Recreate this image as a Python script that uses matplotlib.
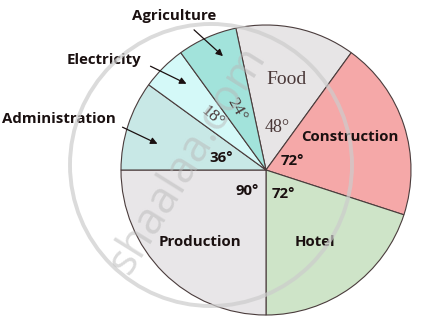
import matplotlib
matplotlib.use("Agg")
import matplotlib.pyplot as plt
from matplotlib.patches import Circle

# Data
categories = ["Food", "Construction", "Hotel", "Production", "Administration", "Electricity", "Agriculture"]
angles = [48, 72, 72, 90, 36, 18, 24]
colors = ["#e7e5e6", "#f5a8a8", "#cee4c8", "#e8e6e8", "#c8e8e6", "#d4f9f8", "#a2e3db"]

W, H = 424, 325
fig = plt.figure(figsize=(W / 100, H / 100), dpi=100)
ax = fig.add_axes([0, 0, 1, 1])

cx, cy, r = 266, H - 170, 145
ax.pie(angles, colors=colors, startangle=102, counterclock=False,
       center=(cx, cy), radius=r, frame=True,
       wedgeprops=dict(edgecolor="#4a3c3c", linewidth=0.8))
ax.set_xlim(0, W)
ax.set_ylim(0, H)
ax.set_aspect("equal")
ax.axis("off")

def P(x, y):
    return (x, H - y)

sans = dict(family="Open Sans", fontweight="bold", color="#1a1010")
serif = dict(family="Liberation Serif", color="#4a3838")
fs = 10.8

# Inside labels
ax.text(*P(287, 79), "Food", fontsize=14, ha="center", va="center", **serif)
ax.text(*P(277, 128), "48°", fontsize=13, ha="center", va="center", **serif)
ax.text(*P(237, 110), "24°", fontsize=12.5, ha="center", va="center", rotation=-60, **serif)
ax.text(*P(212, 117), "18°", fontsize=12.5, ha="center", va="center", rotation=-40, **serif)
ax.text(*P(350, 137), "Construction", fontsize=fs, ha="center", va="center", **sans)
ax.text(*P(292, 161), "72°", fontsize=fs, ha="center", va="center", **sans)
ax.text(*P(283, 194), "72°", fontsize=fs, ha="center", va="center", **sans)
ax.text(*P(247, 191), "90°", fontsize=fs, ha="center", va="center", **sans)
ax.text(*P(221, 158), "36°", fontsize=fs, ha="center", va="center", **sans)
ax.text(*P(315, 242), "Hotel", fontsize=fs, ha="center", va="center", **sans)
ax.text(*P(200, 242), "Production", fontsize=fs, ha="center", va="center", **sans)

# Outside labels with arrows
ax.text(*P(174, 16), "Agriculture", fontsize=fs, ha="center", va="center", **sans)
ax.text(*P(104, 60), "Electricity", fontsize=fs, ha="center", va="center", **sans)
ax.text(*P(59, 119), "Administration", fontsize=fs, ha="center", va="center", **sans)
arrow = dict(arrowstyle="-|>", color="#1a1010", lw=0.9, mutation_scale=10)
ax.annotate("", xy=P(225, 58), xytext=P(192, 28), arrowprops=arrow)
ax.annotate("", xy=P(189, 85), xytext=P(148, 65), arrowprops=arrow)
ax.annotate("", xy=P(160, 145), xytext=P(120, 126), arrowprops=arrow)

# Watermark
ax.add_patch(Circle((211, H - 165), 141, fill=False, edgecolor="#cccccc", lw=2.8, alpha=0.7, zorder=5))
ax.text(*P(188, 160), "shaalaa.com", fontsize=32, color="#b8b8b8", alpha=0.5,
        rotation=58, ha="center", va="center", family="Open Sans", zorder=5)

fig.savefig("out.png", dpi=100)
